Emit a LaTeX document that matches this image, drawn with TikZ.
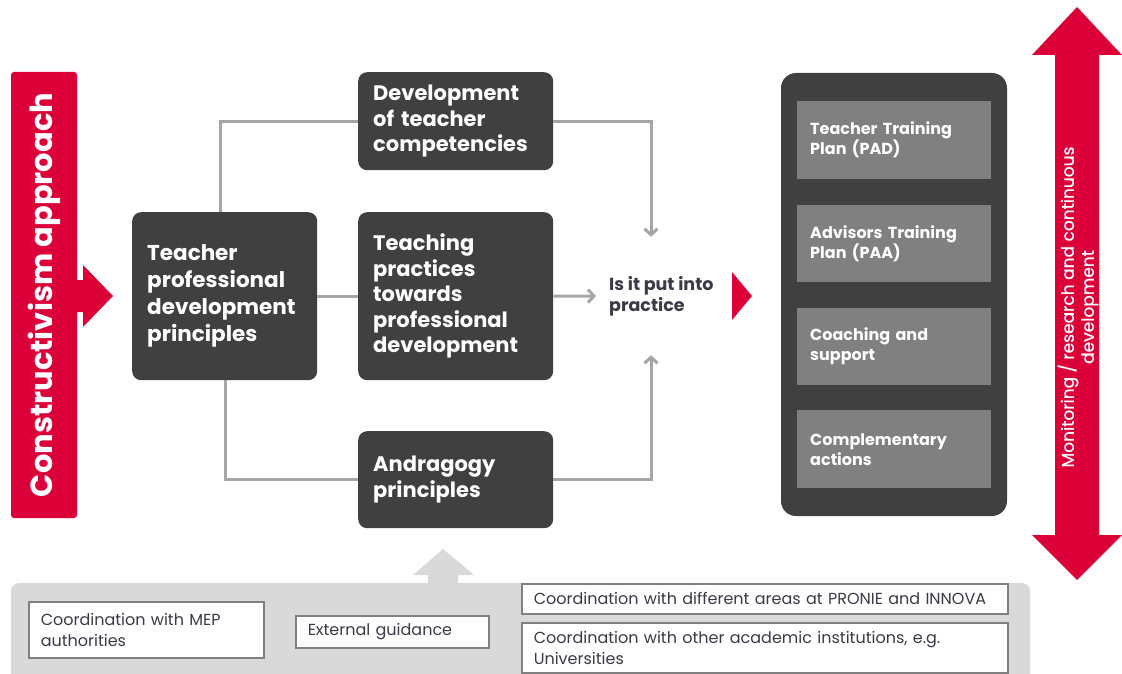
\documentclass[tikz,border=0pt]{standalone}
\usepackage{fontspec}
\setmainfont{Poppins}
\newfontfamily\medfont[FakeBold=0.6]{Poppins}
\usepackage{tikz}
\usetikzlibrary{arrows.meta,positioning}
\definecolor{crimson}{HTML}{DC0039}
\definecolor{boxdark}{HTML}{404040}
\definecolor{boxgrey}{HTML}{808080}
\definecolor{linegrey}{HTML}{A6A6A6}
\definecolor{panelgrey}{HTML}{D9D9D9}
\definecolor{textdark}{HTML}{3A3A48}
\tikzset{>={Straight Barb[length=6pt,width=13pt]}}
\tikzset{
  darkbox/.style={fill=boxdark, rounded corners=9pt, anchor=north west, inner xsep=15pt,
    text=white, align=left, font=\bfseries\fontsize{21}{25.5}\selectfont},
  planbox/.style={fill=boxgrey, anchor=north west, minimum width=194pt, inner xsep=13pt,
    text width=168pt, text=white, align=left, font=\bfseries\fontsize{16}{20}\selectfont},
  coordbox/.style={draw=boxgrey, line width=1.5pt, fill=white, anchor=north west, inner xsep=12pt,
    align=left, text=textdark, font=\fontsize{16}{21}\selectfont},
  conn/.style={draw=linegrey, line width=3pt},
}

\begin{document}
\begin{tikzpicture}[x=1pt,y=-1pt]
\useasboundingbox (0,0) rectangle (1122,674);

% left bar with its arrow
\fill[crimson, rounded corners=3pt] (11,72) rectangle (77,518);
\fill[crimson] (76,280) -- (83,280) -- (83,265) -- (113,296) -- (83,327) -- (83,312) -- (76,312) -- cycle;
\node[rotate=90, text=white, font=\bfseries\fontsize{30.5}{32}\selectfont] (constr) at (44,295) {Constructivism approach};

% principles and the three branches
\node[darkbox, text width=155pt, minimum height=168pt, font=\bfseries\fontsize{21.5}{27}\selectfont] (tpd) at (132,212) {Teacher\\professional\\development\\principles};
\node[darkbox, text width=165pt, minimum height=98pt] (dev) at (358,72) {Development\\of teacher\\competencies};
\node[darkbox, text width=165pt, minimum height=168pt] (teach) at (358,212) {Teaching\\practices\\towards\\professional\\development};
\node[darkbox, text width=165pt, minimum height=97pt] (andra) at (358,431) {Andragogy\\principles};

\node[anchor=west, minimum height=118pt, inner xsep=13pt, align=left, text=textdark,
  font=\bfseries\fontsize{17.5}{21}\selectfont] (practice) at (596,296) {Is it put into\\practice};
\coordinate (join) at (651,296);

\draw[conn] ([xshift=-4.5pt]tpd.north) |- (dev.west);
\draw[conn] (tpd.east) -- (teach.west);
\draw[conn] ([xshift=0.5pt]tpd.south) |- (andra.west);
\draw[conn,->] (dev.east) -| (join |- practice.north);
\draw[conn,->] (teach.east) -- (practice.west);
\draw[conn,->] (andra.east) -| (join |- practice.south);

\fill[crimson] (732,272) -- (752,296) -- (732,320) -- cycle;

% plans
\fill[boxdark, rounded corners=15pt] (781,73) rectangle (1007,516);
\node[planbox, minimum height=78pt] (pad) at (797,101) {Teacher Training\\Plan (PAD)};
\node[planbox, minimum height=77pt] (paa) at (797,205) {Advisors Training\\Plan (PAA)};
\node[planbox, minimum height=77pt] (coach) at (797,308) {Coaching and\\support};
\node[planbox, minimum height=78pt] (compl) at (797,410) {Complementary\\actions};

% monitoring double arrow
\fill[crimson] (1077,7) -- (1122,55) -- (1099,55) -- (1099,535) -- (1122,535) -- (1077,580)
  -- (1032,535) -- (1055,535) -- (1055,55) -- (1032,55) -- cycle;
\node[rotate=90, text=white, align=center, font=\medfont\fontsize{17}{20}\selectfont] (monitor) at (1078,307)
  {Monitoring / research and continuous\\development};

% coordination panel
\fill[panelgrey, rounded corners=8pt] (11,700) -- (11,583) -- (1030,583) -- (1030,700) -- cycle;
\fill[panelgrey] (428,584) -- (428,575) -- (413,575) -- (443,549) -- (474,575) -- (458,575) -- (458,584) -- cycle;

\node[coordbox, text width=211pt, minimum height=56pt] (mep) at (28,601) {Coordination with MEP\\authorities};
\node[coordbox, text width=169pt, minimum height=32pt] (ext) at (295,615) {External guidance};
\node[coordbox, text width=462pt, minimum height=30pt] (pronie) at (521,583) {Coordination with different areas at PRONIE and INNOVA};
\node[coordbox, text width=462pt, minimum height=50pt] (acad) at (521,622) {Coordination with other academic institutions, e.g.\\Universities};
\end{tikzpicture}
\end{document}
